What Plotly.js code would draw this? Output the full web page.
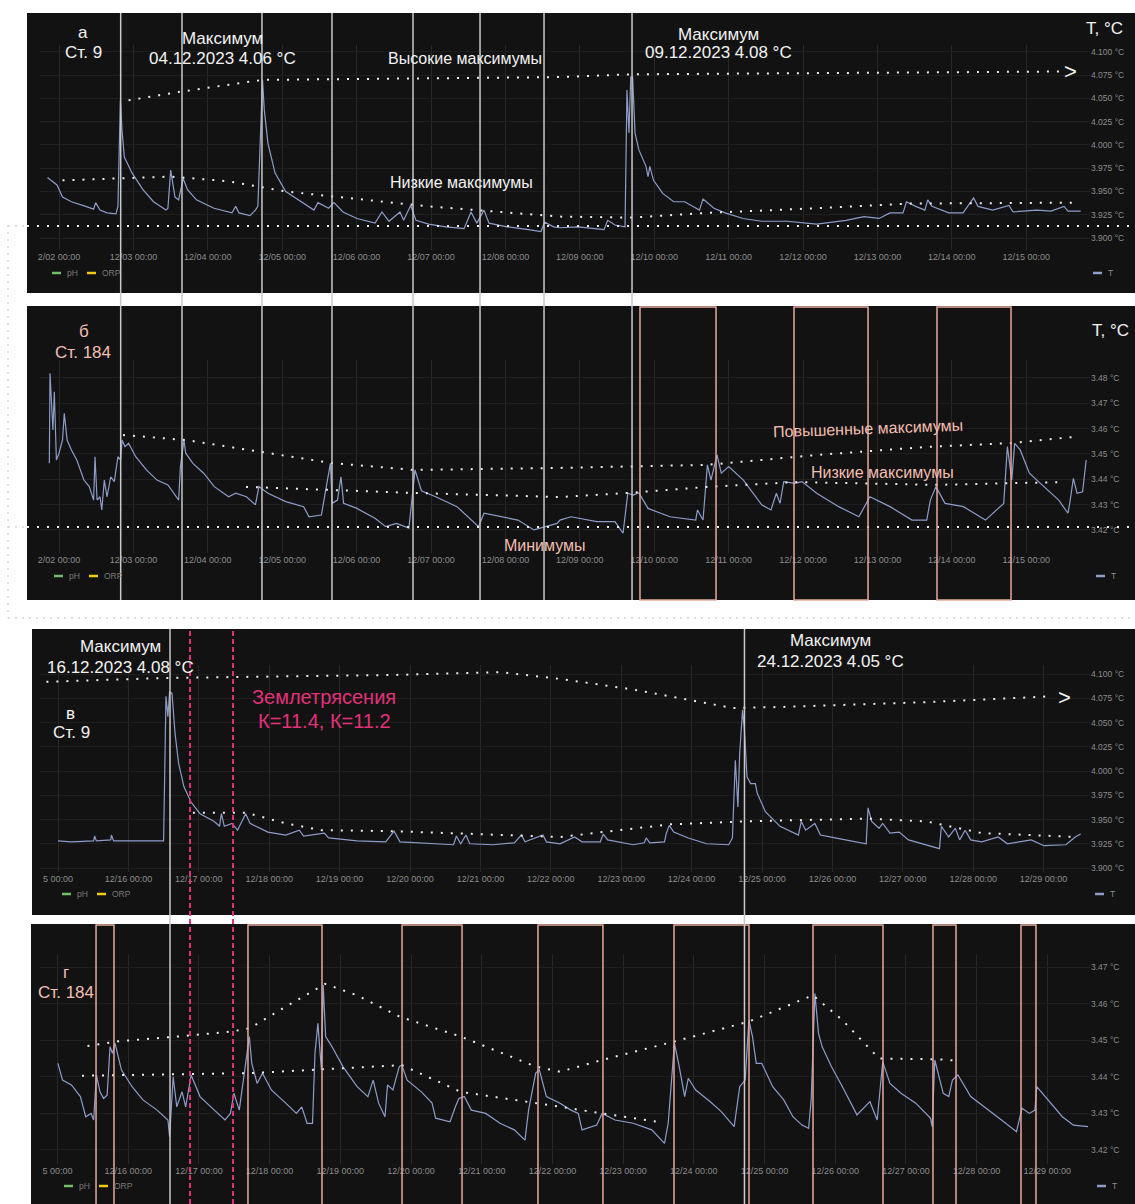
<!DOCTYPE html>
<html><head><meta charset="utf-8">
<script src="https://cdn.plot.ly/plotly-3.0.1.min.js"></script>
<style>body{margin:0;background:#fff}#chart{width:1135px;height:1204px}</style>
</head><body><div id="chart"></div>
<script>
// ===== DATA (day of December 2023, temperature °C) =====
// Panel а — Ст. 9, 02–15.12
const dayA=[1.845,1.973,2.047,2.167,2.359,2.465,2.493,2.551,2.645,2.766,2.792,2.825,2.847,2.878,2.981,3.128,3.271,3.438,3.464,3.501,3.559,3.608,3.669,3.727,3.847,4.083,4.325,4.375,4.419,4.567,4.640,4.673,4.735,4.759,4.808,4.903,5.047,5.288,5.427,5.481,5.624,5.696,5.817,6.005,6.247,6.341,6.435,6.583,6.632,6.727,6.798,6.968,7.202,7.444,7.538,7.616,7.712,7.780,8.022,8.312,8.478,8.527,8.648,8.734,8.976,9.325,9.375,9.473,9.608,9.634,9.661,9.685,9.710,9.742,9.793,9.890,9.917,9.941,9.991,10.114,10.262,10.410,10.608,10.656,10.804,10.952,11.194,11.445,11.785,12.184,12.578,12.820,13.022,13.169,13.344,13.391,13.515,13.638,13.677,13.734,13.958,14.151,14.293,14.352,14.550,14.769,14.823,15.141,15.333,15.508,15.562,15.733];
const tA=[3.965,3.957,3.944,3.939,3.934,3.931,3.938,3.930,3.927,3.926,3.934,4.048,4.016,3.987,3.970,3.952,3.939,3.930,3.932,3.973,3.944,3.941,3.964,3.952,3.941,3.932,3.927,3.934,3.927,3.924,3.930,3.934,4.070,4.038,4.002,3.970,3.950,3.937,3.930,3.938,3.932,3.938,3.928,3.921,3.916,3.928,3.918,3.928,3.919,3.935,3.919,3.915,3.912,3.910,3.928,3.916,3.930,3.916,3.912,3.909,3.907,3.917,3.912,3.911,3.912,3.909,3.919,3.914,3.912,4.059,4.013,4.073,4.073,4.013,3.995,3.977,3.966,3.977,3.962,3.948,3.939,3.939,3.930,3.942,3.932,3.927,3.921,3.918,3.918,3.915,3.919,3.923,3.921,3.927,3.927,3.939,3.934,3.930,3.941,3.934,3.927,3.927,3.943,3.934,3.930,3.935,3.928,3.930,3.929,3.934,3.929,3.929];
const hiDayA=[2.935,3.608,4.735,8.734,9.695,15.481];
const hiValA=[4.048,4.057,4.070,4.073,4.076,4.079];
const loDayA=[2.047,3.505,4.280,5.047,6.005,6.968,8.734,9.715,10.706,12.184,13.411,15.683];
const loValA=[3.962,3.966,3.961,3.950,3.942,3.934,3.923,3.922,3.927,3.932,3.937,3.938];
const baseA=3.913;

// Panel б — Ст. 184, 02–15.12
const dayB=[1.870,1.879,1.918,1.937,1.965,2.000,2.047,2.071,2.109,2.167,2.239,2.335,2.407,2.465,2.484,2.512,2.551,2.575,2.609,2.645,2.695,2.743,2.792,2.829,2.848,2.887,2.935,3.031,3.175,3.317,3.464,3.608,3.632,3.680,3.703,3.800,3.944,4.087,4.280,4.375,4.519,4.640,4.687,4.808,5.047,5.288,5.360,5.527,5.585,5.648,5.671,5.743,5.790,5.825,6.005,6.247,6.391,6.535,6.703,6.751,6.785,6.871,7.063,7.349,7.640,7.712,7.927,8.168,8.384,8.551,8.694,8.734,8.882,9.227,9.473,9.581,9.645,9.719,9.793,9.917,10.212,10.558,10.582,10.656,10.715,10.763,10.804,10.844,10.902,11.001,11.199,11.445,11.569,11.642,11.691,11.741,11.889,11.987,12.184,12.480,12.751,12.849,12.899,13.169,13.465,13.663,13.712,13.786,13.909,14.156,14.452,14.698,14.747,14.806,14.845,14.919,15.043,15.191,15.437,15.561,15.585,15.634,15.683,15.758,15.806];
const tB=[3.4463,3.4819,3.4595,3.4746,3.4476,3.4503,3.4555,3.4661,3.4555,3.4516,3.4476,3.4397,3.4371,3.4318,3.4489,3.4318,3.4331,3.4279,3.4397,3.4331,3.4410,3.4391,3.4489,3.4476,3.4555,3.4529,3.4542,3.4489,3.4437,3.4397,3.4378,3.4318,3.4450,3.4555,3.4503,3.4463,3.4424,3.4371,3.4331,3.4345,3.4331,3.4299,3.4371,3.4345,3.4312,3.4292,3.4252,3.4259,3.4358,3.4463,3.4305,3.4318,3.4410,3.4305,3.4285,3.4246,3.4213,3.4226,3.4207,3.4331,3.4437,3.4355,3.4331,3.4292,3.4213,3.4266,3.4252,3.4239,3.4200,3.4213,3.4226,3.4239,3.4252,3.4233,3.4233,3.4187,3.4345,3.4338,3.4347,3.4285,3.4252,3.4239,3.4279,3.4239,3.4457,3.4397,3.4450,3.4496,3.4424,3.4450,3.4397,3.4299,3.4279,3.4345,3.4305,3.4391,3.4384,3.4391,3.4345,3.4292,3.4252,3.4305,3.4331,3.4292,3.4239,3.4239,3.4318,3.4371,3.4305,3.4292,3.4239,3.4305,3.4529,3.4397,3.4542,3.4516,3.4424,3.4384,3.4318,3.4266,3.4305,3.4404,3.4345,3.4351,3.4476];
const hiDayB=[2.860,3.707,5.669,6.772,8.734,10.710,12.188,13.667,14.796,15.629];
const hiValB=[3.4575,3.4555,3.4464,3.4437,3.4445,3.4457,3.4496,3.4528,3.4543,3.4567];
const loDayB=[4.513,5.669,6.772,8.734,9.648,10.710,11.892,13.788,15.481];
const loValB=[3.4370,3.4358,3.4346,3.4330,3.4346,3.4370,3.4389,3.4378,3.4389];
const baseB=3.4212;

// Panel в — Ст. 9, 15–29.12
const dayC=[14.999,15.190,15.506,15.520,15.545,15.749,15.759,15.790,16.206,16.500,16.534,16.561,16.585,16.619,16.662,16.713,16.788,16.889,17.017,17.220,17.295,17.321,17.362,17.472,17.550,17.666,17.727,17.982,18.234,18.428,18.489,18.783,18.844,19.247,19.655,19.773,19.858,20.264,20.619,20.659,20.720,20.795,20.847,21.178,21.482,21.582,21.634,21.888,21.938,22.131,22.339,22.443,22.703,22.746,22.808,23.172,23.328,23.355,23.406,23.615,23.641,23.683,23.746,23.953,24.214,24.527,24.580,24.621,24.658,24.683,24.724,24.751,24.787,24.839,24.906,24.933,25.048,25.256,25.517,25.558,25.621,25.751,25.830,26.037,26.480,26.506,26.558,26.662,26.714,26.818,26.949,27.080,27.339,27.521,27.548,27.652,27.746,27.808,27.886,27.964,28.121,28.355,28.486,28.824,29.006,29.318,29.449,29.527];
const tC=[3.928,3.927,3.928,3.933,3.928,3.929,3.934,3.928,3.928,3.928,4.077,4.056,4.082,4.080,4.039,4.008,3.984,3.968,3.956,3.948,3.943,3.956,3.943,3.946,3.939,3.956,3.946,3.937,3.934,3.939,3.933,3.936,3.931,3.928,3.927,3.938,3.927,3.925,3.924,3.933,3.925,3.934,3.925,3.924,3.926,3.934,3.927,3.934,3.927,3.925,3.932,3.927,3.927,3.935,3.929,3.924,3.926,3.931,3.926,3.927,3.936,3.944,3.937,3.931,3.925,3.924,3.931,4.011,3.963,4.018,4.063,4.042,3.994,3.987,3.987,3.977,3.958,3.943,3.934,3.948,3.939,3.946,3.934,3.931,3.925,3.962,3.948,3.941,3.946,3.936,3.937,3.929,3.924,3.920,3.943,3.932,3.941,3.929,3.939,3.929,3.927,3.932,3.925,3.929,3.923,3.924,3.932,3.935];
const hiDayC=[14.835,16.561,19.757,21.278,22.131,23.172,24.580,25.256,27.339,29.111];
const hiValC=[4.092,4.096,4.099,4.102,4.095,4.084,4.065,4.066,4.071,4.077];
const loDayC=[16.916,17.676,18.234,18.741,19.757,22.131,23.693,24.734,26.506,27.339,28.121,29.474];
const loValC=[3.957,3.957,3.946,3.939,3.938,3.932,3.945,3.948,3.951,3.948,3.936,3.932];

// Panel г — Ст. 184, 15–29.12
const dayD=[15.006,15.071,15.197,15.324,15.399,15.475,15.511,15.550,15.601,15.652,15.702,15.743,15.778,15.813,15.904,16.055,16.208,16.409,16.562,16.586,16.636,16.687,16.762,16.813,16.890,17.016,17.218,17.369,17.446,17.495,17.571,17.646,17.713,17.748,17.823,17.900,18.025,18.228,18.379,18.455,18.530,18.607,18.642,18.683,18.733,18.758,18.793,18.884,19.037,19.238,19.390,19.465,19.542,19.632,19.668,19.744,19.834,19.870,19.945,20.147,20.298,20.349,20.552,20.628,20.677,20.754,20.854,21.057,21.259,21.461,21.612,21.663,21.764,21.815,21.915,22.108,22.263,22.366,22.419,22.627,22.704,22.885,23.144,23.405,23.586,23.638,23.673,23.726,23.794,23.871,23.922,24.027,24.233,24.389,24.571,24.649,24.727,24.779,24.830,24.883,24.961,25.116,25.272,25.402,25.530,25.624,25.660,25.713,25.764,25.816,25.946,26.102,26.308,26.413,26.491,26.594,26.672,26.775,26.931,27.139,27.347,27.372,27.409,27.528,27.606,27.658,27.736,27.917,28.176,28.384,28.564,28.642,28.747,28.825,28.850,29.006,29.213,29.369,29.576];
const tD=[3.4437,3.4391,3.4378,3.4346,3.4291,3.4300,3.4282,3.4405,3.4359,3.4341,3.4350,3.4482,3.4464,3.4492,3.4419,3.4373,3.4337,3.4309,3.4282,3.4236,3.4400,3.4318,3.4359,3.4318,3.4405,3.4346,3.4309,3.4282,3.4300,3.4355,3.4309,3.4410,3.4510,3.4437,3.4382,3.4410,3.4364,3.4328,3.4300,3.4318,3.4273,3.4273,3.4464,3.4546,3.4419,3.4651,3.4510,3.4482,3.4428,3.4373,3.4346,3.4391,3.4328,3.4291,3.4378,3.4364,3.4428,3.4432,3.4391,3.4359,3.4328,3.4287,3.4277,3.4318,3.4341,3.4346,3.4309,3.4300,3.4273,3.4255,3.4227,3.4309,3.4410,3.4419,3.4346,3.4328,3.4309,3.4300,3.4255,3.4268,3.4300,3.4282,3.4273,3.4255,3.4218,3.4273,3.4355,3.4492,3.4428,3.4346,3.4396,3.4364,3.4332,3.4305,3.4264,3.4373,3.4391,3.4555,3.4510,3.4437,3.4437,3.4373,3.4337,3.4291,3.4268,3.4259,3.4337,3.4628,3.4519,3.4482,3.4428,3.4373,3.4296,3.4318,3.4332,3.4282,3.4441,3.4382,3.4355,3.4328,3.4287,3.4264,3.4446,3.4355,3.4346,3.4391,3.4405,3.4346,3.4309,3.4277,3.4250,3.4314,3.4300,3.4309,3.4373,3.4337,3.4291,3.4268,3.4264];
const hiDayD=[15.424,15.854,16.813,17.468,17.723,18.228,18.784,19.236,19.844,20.703,21.764,22.108,22.704,23.716,24.779,25.686,26.102,26.620,27.450,27.736];
const hiValD=[3.4484,3.4497,3.4512,3.4524,3.4533,3.4592,3.4654,3.4623,3.4564,3.4510,3.4428,3.4414,3.4446,3.4496,3.4551,3.4623,3.4555,3.4450,3.4448,3.4444];
const loDayD=[15.347,17.723,19.870,20.703,22.108,22.704,23.482];
const loValD=[3.4403,3.4410,3.4432,3.4359,3.4318,3.4300,3.4277];

// Event markers (day of December)
const markAB=[2.829,3.653,4.728,5.669,6.758,7.659,8.519,9.702];
const boxB=[[9.809,10.831],[11.879,12.874],[13.801,14.796]];
const markCD=[16.591,24.751];
const quakeCD=[16.875,17.486];
const boxD=[[15.545,15.799],[17.694,18.741],[19.873,20.722],[21.796,22.715],[23.720,24.781],[25.686,26.676],[27.383,27.709],[28.628,28.840]];

// Tick values
const ticksAB=[2,3,4,5,6,7,8,9,10,11,12,13,14,15];
const ticksCD=[15,16,17,18,19,20,21,22,23,24,25,26,27,28,29];
const yTicksA=[3.900,3.925,3.950,3.975,4.000,4.025,4.050,4.075,4.100];
const yTicksB=[3.42,3.43,3.44,3.45,3.46,3.47,3.48];
const yTicksD=[3.42,3.43,3.44,3.45,3.46,3.47];

// ===== HELPERS =====
const W=1135,H=1204;
const px=x=>x/W, py=y=>1-y/H;
function toDate(d){const ms=Date.UTC(2023,11,1)+(d-1)*86400000;return new Date(ms).toISOString().slice(0,19).replace('T',' ');}
const dts=a=>a.map(toDate);
function tickText(days,first){return days.map((d,i)=>{ if(i===0) return first; const dd=String(Math.round(d)).padStart(2,'0'); return '12/'+dd+' 00:00';});}

const LINE='#8e9cc9', DOT='#ececec', SALMON='#e6a99c', PINKTXT='#f2bfb1', MAG='#e2317a', GREY='#c9c9c9';
const FONT='Liberation Sans, Arial, sans-serif';

function xax(domDays,ticks,first,anchor){return {type:'date',domain:[px(40),px(1090)],range:dts(domDays),anchor:anchor,
  tickvals:dts(ticks),ticktext:tickText(ticks,first),tickfont:{size:9,color:'#8c8c8c',family:FONT},ticks:'',
  showgrid:true,gridcolor:'#272727',gridwidth:1,zeroline:false,showline:false,fixedrange:true};}
function yax(dom,range,ticks,fmt,anchor){return {domain:dom,range:range,side:'right',anchor:anchor,
  tickvals:ticks,ticktext:ticks.map(v=>v.toFixed(fmt)+' °C'),tickfont:{size:8.5,color:'#8c8c8c',family:FONT},ticks:'',
  showgrid:true,gridcolor:'#1e1e1e',zeroline:false,showline:false,fixedrange:true};}

const layout={width:W,height:H,margin:{l:0,r:0,t:0,b:0},paper_bgcolor:'#ffffff',plot_bgcolor:'rgba(0,0,0,0)',showlegend:false,
  font:{family:FONT},
  xaxis:xax([1.7446,15.8575],ticksAB,'2/02 00:00','y'),
  xaxis2:xax([1.7446,15.8575],ticksAB,'2/02 00:00','y2'),
  xaxis3:xax([14.7443,29.6591],ticksCD,'5 00:00','y3'),
  xaxis4:xax([14.7525,29.6040],ticksCD,'5 00:00','y4'),
  yaxis:yax([py(250),py(45)],[3.8871,4.1075],yTicksA,3,'x'),
  yaxis2:yax([py(553),py(360)],[3.4109,3.4871],yTicksB,2,'x2'),
  yaxis3:yax([py(872),py(665)],[3.8959,4.1093],yTicksA,3,'x3'),
  yaxis4:yax([py(1164),py(955)],[3.41617,3.4733],yTicksD,2,'x4'),
  shapes:[],annotations:[]};

const S=layout.shapes, A=layout.annotations;
// dark panels
[[27,13,1135,293],[27,306,1135,600],[32,629,1135,915],[31,924,1135,1204]].forEach(r=>S.push({type:'rect',xref:'paper',yref:'paper',x0:px(r[0]),x1:px(r[2]),y0:py(r[3]),y1:py(r[1]),fillcolor:'#121212',line:{width:0},layer:'below'}));
// grey dotted frame outside panels a/b
S.push({type:'line',xref:'paper',yref:'paper',x0:px(8),x1:px(8),y0:py(225),y1:py(618),line:{color:'#d6d6d6',width:1.5,dash:'2px,5px'}});
S.push({type:'line',xref:'paper',yref:'paper',x0:px(8),x1:px(1135),y0:py(618),y1:py(618),line:{color:'#d6d6d6',width:1.5,dash:'2px,5px'}});
S.push({type:'line',xref:'paper',yref:'paper',x0:px(8),x1:px(27),y0:py(226),y1:py(226),line:{color:'#d6d6d6',width:1.5,dash:'2px,5px'}});
S.push({type:'line',xref:'paper',yref:'paper',x0:px(8),x1:px(27),y0:py(527),y1:py(527),line:{color:'#d6d6d6',width:1.5,dash:'2px,5px'}});
// baselines
S.push({type:'line',xref:'paper',yref:'y',x0:px(27),x1:1,y0:baseA,y1:baseA,line:{color:DOT,width:2,dash:'2px,8px'}});
S.push({type:'line',xref:'paper',yref:'y2',x0:px(27),x1:1,y0:baseB,y1:baseB,line:{color:DOT,width:2,dash:'2px,8px'}});
// boxes b
boxB.forEach(b=>S.push({type:'rect',xref:'x2',yref:'paper',x0:toDate(b[0]),x1:toDate(b[1]),y0:py(600),y1:py(307),line:{color:SALMON,width:1.5},fillcolor:'rgba(0,0,0,0)'}));
// boxes d
boxD.forEach(b=>S.push({type:'rect',xref:'x4',yref:'paper',x0:toDate(b[0]),x1:toDate(b[1]),y0:-0.01,y1:py(925),line:{color:SALMON,width:1.5},fillcolor:'rgba(0,0,0,0)'}));
// vertical marker lines a/b
markAB.forEach(d=>S.push({type:'line',xref:'x',yref:'paper',x0:toDate(d),x1:toDate(d),y0:py(600),y1:py(13),line:{color:GREY,width:1.5}}));
markCD.forEach(d=>S.push({type:'line',xref:'x3',yref:'paper',x0:toDate(d),x1:toDate(d),y0:0,y1:py(629),line:{color:GREY,width:1.5}}));
quakeCD.forEach(d=>S.push({type:'line',xref:'x3',yref:'paper',x0:toDate(d),x1:toDate(d),y0:0,y1:py(629),line:{color:MAG,width:2,dash:'5px,3px'}}));

// legends
function legend(y,x0,ti){
  S.push({type:'line',xref:'paper',yref:'paper',x0:px(x0),x1:px(x0+9),y0:py(y),y1:py(y),line:{color:'#73bf69',width:2.5}});
  A.push({xref:'paper',yref:'paper',x:px(x0+13),y:py(y),text:'pH',showarrow:false,xanchor:'left',yanchor:'middle',font:{size:8.5,color:'#7a7a7a'}});
  S.push({type:'line',xref:'paper',yref:'paper',x0:px(x0+35),x1:px(x0+44),y0:py(y),y1:py(y),line:{color:'#f2cc0c',width:2.5}});
  A.push({xref:'paper',yref:'paper',x:px(x0+48),y:py(y),text:'ORP',showarrow:false,xanchor:'left',yanchor:'middle',font:{size:8.5,color:'#7a7a7a'}});
  S.push({type:'line',xref:'paper',yref:'paper',x0:px(ti),x1:px(ti+9),y0:py(y),y1:py(y),line:{color:LINE,width:2.5}});
  A.push({xref:'paper',yref:'paper',x:px(ti+13),y:py(y),text:'T',showarrow:false,xanchor:'left',yanchor:'middle',font:{size:8.5,color:'#8c8c8c'}});
}
legend(273,52,1093); legend(576,54,1096); legend(894,62,1095); legend(1186,64,1097);

function txt(x,y,t,size,color,extra){A.push(Object.assign({xref:'paper',yref:'paper',x:px(x),y:py(y),text:t,showarrow:false,xanchor:'center',yanchor:'middle',font:{size:size,color:color,family:FONT}},extra||{}));}
// panel a
txt(83,33,'а',17,'#f2f2f2'); txt(83,53,'Ст. 9',17,'#f2f2f2');
txt(222,38,'Максимум',17,'#f2f2f2'); txt(222,58,'04.12.2023 4.06 °C',17,'#f2f2f2');
txt(465,59,'Высокие максимумы',16,'#f2f2f2'); txt(461,182,'Низкие максимумы',16,'#f2f2f2');
txt(718,34,'Максимум',17,'#f2f2f2'); txt(718,53,'09.12.2023 4.08 °C',17,'#f2f2f2');
txt(1104,28,'T, °C',17,'#f2f2f2'); txt(1070,72,'>',22,'#f2f2f2');
// panel b
txt(84,331,'б',17,PINKTXT); txt(83,352,'Ст. 184',17,PINKTXT);
txt(1110,330,'T, °C',17,'#f2f2f2');
txt(868,428,'Повышенные максимумы',16,PINKTXT,{textangle:-2});
txt(882,472,'Низкие максимумы',16,PINKTXT);
txt(545,545,'Минимумы',16,PINKTXT);
// panel c
txt(120,646,'Максимум',17,'#f2f2f2'); txt(120,667,'16.12.2023 4.08 °C',17,'#f2f2f2');
txt(70,713,'в',17,'#f2f2f2'); txt(71,732,'Ст. 9',17,'#f2f2f2');
txt(324,697,'Землетрясения',20,MAG); txt(324,721,'К=11.4, К=11.2',20,MAG);
txt(830,640,'Максимум',17,'#f2f2f2'); txt(830,661,'24.12.2023 4.05 °C',17,'#f2f2f2');
txt(1064,697,'>',22,'#f2f2f2');
// panel d
txt(66,972,'г',17,PINKTXT); txt(66,992,'Ст. 184',17,PINKTXT);

function series(days,vals,xa,ya){return {type:'scatter',mode:'lines',x:dts(days),y:vals,xaxis:xa,yaxis:ya,line:{color:LINE,width:1.2},hoverinfo:'skip'};}
function dotted(days,vals,xa,ya){return {type:'scatter',mode:'lines',x:dts(days),y:vals,xaxis:xa,yaxis:ya,line:{color:DOT,width:2,dash:'2px,8px'},hoverinfo:'skip'};}
const data=[
  series(dayA,tA,'x','y'), dotted(hiDayA,hiValA,'x','y'), dotted(loDayA,loValA,'x','y'),
  series(dayB,tB,'x2','y2'), dotted(hiDayB,hiValB,'x2','y2'), dotted(loDayB,loValB,'x2','y2'),
  series(dayC,tC,'x3','y3'), dotted(hiDayC,hiValC,'x3','y3'), dotted(loDayC,loValC,'x3','y3'),
  series(dayD,tD,'x4','y4'), dotted(hiDayD,hiValD,'x4','y4'), dotted(loDayD,loValD,'x4','y4')
];
Plotly.newPlot('chart',data,layout,{staticPlot:true,displayModeBar:false});
</script></body></html>
